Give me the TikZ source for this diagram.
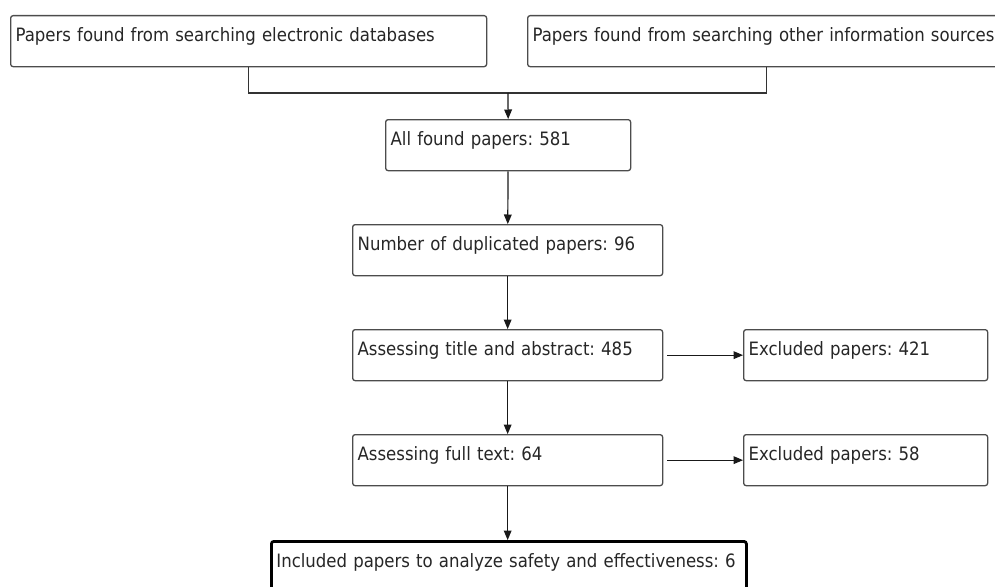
\documentclass[tikz,border=0pt]{standalone}
\usepackage{fontspec}
\newfontfamily\boxfont{DejaVu Sans Condensed}
\usetikzlibrary{arrows}
\tikzset{box/.style={draw=black!70, line width=1.3pt, rounded corners=2.5pt, anchor=north west, align=left, inner xsep=5pt, inner ysep=5pt, text height=21pt, text depth=20pt, text=black!85, font=\boxfont\fontsize{18.4}{20}\selectfont\frenchspacing}}
\tikzset{flow/.style={line width=1.2pt, black!90, -triangle 45}}

\begin{document}
\begin{tikzpicture}[x=1pt, y=-1pt]
\useasboundingbox (0,0) rectangle (995,586);
\node[box, text width=466pt] (elec) at (10,15) {Papers found from searching electronic databases};
\node[box, text width=468pt] (other) at (527,15) {Papers found from searching other information sources};
\node[box, text width=235pt] (found) at (385,119) {All found papers: 581};
\node[box, text width=300pt] (dupl) at (352,224) {Number of duplicated papers: 96};
\node[box, text width=300pt] (title) at (352,329) {Assessing title and abstract: 485};
\node[box, text width=234pt] (excla) at (743,329) {Excluded papers: 421};
\node[box, text width=300pt] (full) at (352,434) {Assessing full text: 64};
\node[box, text width=234pt] (exclb) at (743,434) {Excluded papers: 58};
\node[box, draw=black, line width=2.8pt, text width=465pt] (incl) at (270,540) {Included papers to analyze safety and effectiveness: 6};
\coordinate (join) at (508,93);
\draw[line width=1.3pt, black!80] (elec.south) |- (join) -| (other.south);
\draw[flow] (join) -- (found.north);
\draw[flow] (found) -- (dupl);
\draw[flow] (dupl) -- (title);
\draw[flow] (title) -- (full);
\draw[flow] (full.south) -- (full.south |- incl.north);
\draw[flow, shorten <=4pt] (title) -- (excla);
\draw[flow, shorten <=4pt] (full) -- (exclb);
\end{tikzpicture}
\end{document}
